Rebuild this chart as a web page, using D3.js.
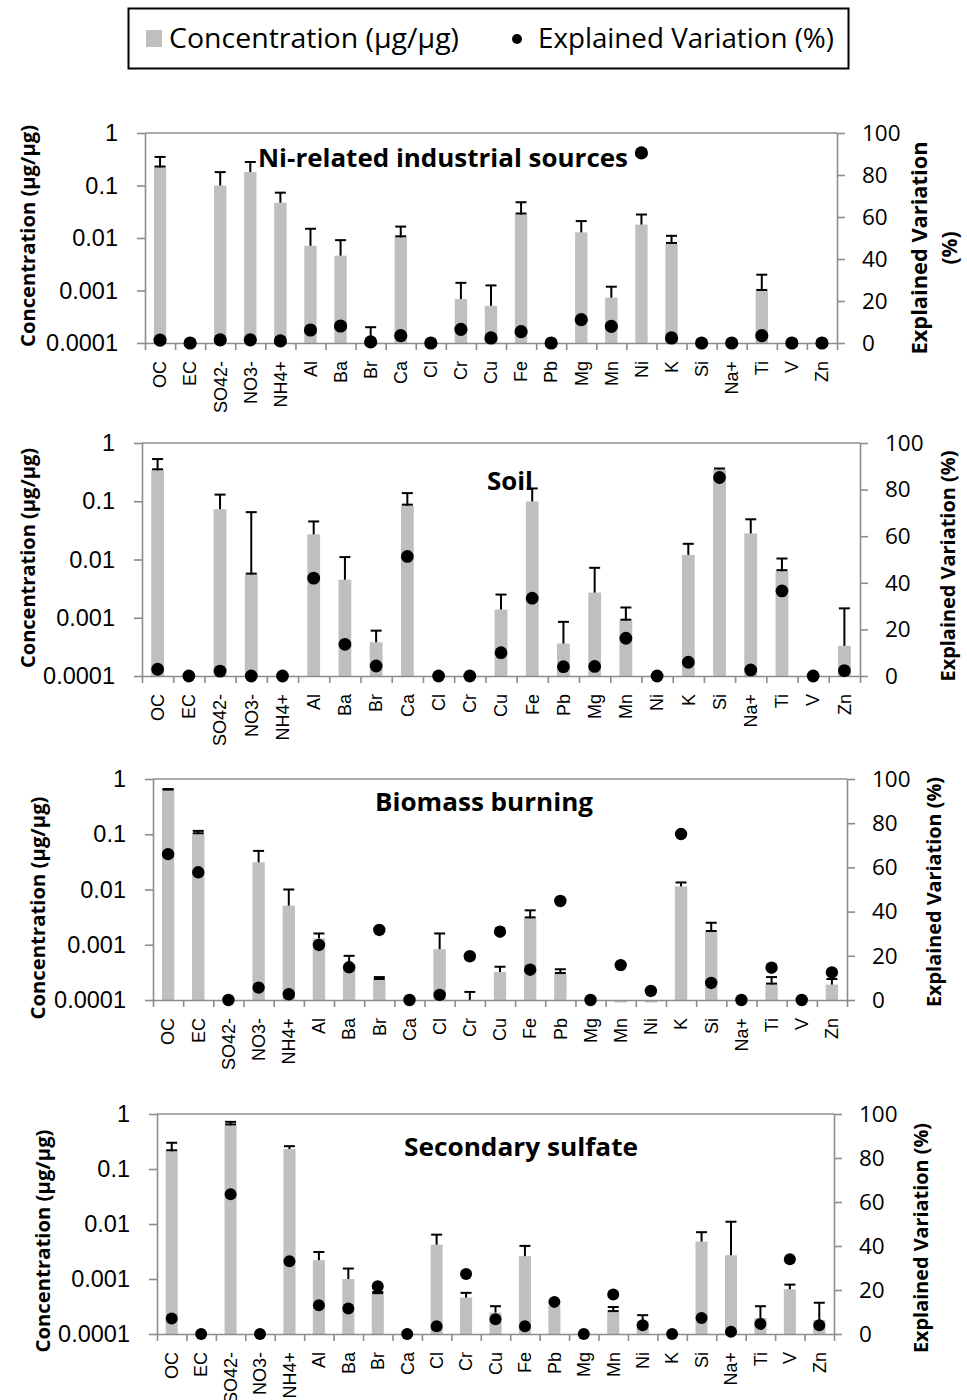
<!DOCTYPE html>
<html>
<head>
<meta charset="utf-8">
<script src="https://cdn.jsdelivr.net/npm/d3@7"></script>
<style>
  body { margin: 0; background: #fff; }
  svg { display: block; }
</style>
</head>
<body>
<svg id="chart" width="967" height="1400"></svg>
<script>
// Species shown along every x axis
const categories = ["OC", "EC", "SO42-", "NO3-", "NH4+", "Al", "Ba", "Br", "Ca", "Cl", "Cr", "Cu",
                    "Fe", "Pb", "Mg", "Mn", "Ni", "K", "Si", "Na+", "Ti", "V", "Zn"];

// Axis ticks
const concTicks = [0.0001, 0.001, 0.01, 0.1, 1];
const concTickLabels = ["0.0001", "0.001", "0.01", "0.1", "1"];
const explTicks = [0, 20, 40, 60, 80, 100];

// Legend entries
const legendConc = "Concentration (µg/µg)";
const legendExpl = "Explained Variation (%)";

// Factor profiles: concentration (µg/µg), upper error bound, lower error bound, explained variation (%)
const niConc      = [0.22, null, 0.1, 0.18, 0.047, 0.0071, 0.0046, null, 0.0103, null, 0.00069, 0.00051,
                     0.028, null, 0.0128, 0.00073, 0.018, 0.0077, null, null, 0.00098, null, null];
const niErrHigh   = [0.35, null, 0.18, 0.28, 0.073, 0.015, 0.0091, 0.0002, 0.0165, null, 0.0014, 0.00125,
                     0.048, null, 0.021, 0.00118, 0.028, 0.011, null, null, 0.002, null, null];
const niErrLow    = [0.22, null, null, null, null, null, null, null, 0.0103, null, null, null,
                     0.028, null, null, null, null, 0.0077, null, null, 0.00098, null, null];
const niExplained = [1.4, 0, 1.5, 1.5, 1.0, 6.2, 8.1, 0.5, 3.5, 0, 6.5, 2.4,
                     5.4, 0, 11.1, 7.9, 90.5, 2.4, 0, 0, 3.5, 0, 0];

const soilConc      = [0.34, null, 0.073, 0.0055, null, 0.027, 0.0045, 0.00038, 0.084, null, null, 0.00138,
                       0.099, 0.00036, 0.0027, 0.00089, null, 0.012, 0.35, 0.028, 0.0063, null, 0.00033];
const soilErrHigh   = [0.53, null, 0.13, 0.065, null, 0.045, 0.011, 0.0006, 0.138, null, null, 0.0025,
                       0.166, 0.00085, 0.0072, 0.0015, null, 0.0186, 0.365, 0.049, 0.0104, null, 0.00145];
const soilErrLow    = [0.34, null, null, 0.0055, null, null, null, null, 0.084, null, null, null,
                       null, null, null, 0.00089, null, null, null, null, 0.0063, null, null];
const soilExplained = [2.9, 0, 2.1, 0, 0, 42, 13.6, 4.3, 51.3, 0, 0, 10,
                       33.4, 4.0, 4.1, 16.2, 0, 5.9, 85.2, 2.6, 36.5, 0, 2.3];

const bioConc      = [0.63, 0.1, null, 0.031, 0.0051, 0.0013, 0.00044, 0.00023, null, 0.00083, null, 0.00032,
                      0.003, 0.000295, null, 0.00009, 0.00009, 0.0114, 0.0017, null, 0.00019, null, 0.00019];
const bioErrHigh   = [0.645, 0.115, null, 0.05, 0.01, 0.0016, 0.00063, 0.00026, null, 0.0016, 0.00014, 0.0004,
                      0.0042, 0.00036, null, null, null, 0.0134, 0.0025, null, 0.00026, null, 0.00024];
const bioErrLow    = [0.63, 0.1, null, null, null, null, null, 0.00023, null, null, null, null,
                      0.003, 0.000295, null, null, null, null, 0.0017, null, 0.00019, null, null];
const bioExplained = [66, 57.8, 0, 5.6, 2.6, 24.9, 14.8, 31.7, 0, 2.3, 19.8, 30.9,
                      13.7, 44.8, 0, 15.8, 4.1, 75.1, 7.7, 0, 14.6, 0, 12.5];

const sulfConc      = [0.21, null, 0.62, null, 0.23, 0.0022, 0.001, 0.00053, null, 0.0042, 0.00046, 0.000245,
                       0.0026, 0.00033, null, 0.00025, 0.00017, null, 0.0048, 0.0027, 0.000195, 0.00065, 0.00018];
const sulfErrHigh   = [0.30, null, 0.72, null, 0.26, 0.0031, 0.00155, 0.00058, null, 0.0064, 0.00056, 0.00032,
                       0.004, null, null, 0.00031, 0.00022, null, 0.0071, 0.011, 0.00032, 0.00079, 0.00037];
const sulfErrLow    = [0.21, null, 0.62, null, null, null, null, 0.00053, null, null, null, null,
                       null, null, null, 0.00025, null, null, null, null, null, null, null];
const sulfExplained = [7, 0, 63.5, 0, 33.1, 13.1, 11.6, 21.7, 0, 3.5, 27.3, 6.7,
                       3.5, 14.6, 0, 18, 4, 0, 7.3, 1.0, 4.6, 34, 4];

const panels = [
  { title: "Ni-related industrial sources", conc: niConc, hi: niErrHigh, lo: niErrLow, expl: niExplained },
  { title: "Soil", conc: soilConc, hi: soilErrHigh, lo: soilErrLow, expl: soilExplained },
  { title: "Biomass burning", conc: bioConc, hi: bioErrHigh, lo: bioErrLow, expl: bioExplained },
  { title: "Secondary sulfate", conc: sulfConc, hi: sulfErrHigh, lo: sulfErrLow, expl: sulfExplained }
];

// Page layout of each panel
const frames = [
  { left: 145, right: 837, top: 133, bottom: 343, r: 6.6,
    tx: 443, ty: 167, tLen: 370,
    lx: 35, ly: 236, lLen: 222,
    rLines: ["Explained Variation", "(%)"], rx: [927, 957], ry: 248, rLen: [213, null], rSize: 21 },
  { left: 142, right: 860, top: 443, bottom: 676, r: 6.4,
    tx: 510, ty: 490, tLen: 46,
    lx: 35, ly: 558, lLen: 220,
    rLines: ["Explained Variation (%)"], rx: [955], ry: 566, rLen: [231], rSize: 19 },
  { left: 153, right: 847, top: 779, bottom: 1000, r: 6.2,
    tx: 484, ty: 811, tLen: 218,
    lx: 45, ly: 908, lLen: 223,
    rLines: ["Explained Variation (%)"], rx: [941], ry: 892, rLen: [230], rSize: 19 },
  { left: 157, right: 834, top: 1114, bottom: 1334, r: 6.0,
    tx: 521, ty: 1156, tLen: 234,
    lx: 50, ly: 1241, lLen: 223,
    rLines: ["Explained Variation (%)"], rx: [928], ry: 1238, rLen: [230], rSize: 19 }
];

const AXIS_COLOR = "#8c8c8c";
const BAR_COLOR = "#bfbfbf";
const svg = d3.select("#chart");

// Legend
const legend = svg.append("g");
legend.append("rect").attr("x", 128.5).attr("y", 8.5).attr("width", 720).attr("height", 60)
  .attr("fill", "none").attr("stroke", "#000").attr("stroke-width", 2);
legend.append("rect").attr("x", 146).attr("y", 30).attr("width", 16).attr("height", 17).attr("fill", BAR_COLOR);
legend.append("text").attr("x", 169).attr("y", 48).text(legendConc)
  .attr("font-family", "'Open Sans', sans-serif").attr("font-size", 27)
  .attr("textLength", 290).attr("lengthAdjust", "spacingAndGlyphs");
legend.append("circle").attr("cx", 517).attr("cy", 39).attr("r", 5).attr("fill", "#000");
legend.append("text").attr("x", 538).attr("y", 48).text(legendExpl)
  .attr("font-family", "'Open Sans', sans-serif").attr("font-size", 27)
  .attr("textLength", 296).attr("lengthAdjust", "spacingAndGlyphs");

function styleAxis(g) {
  g.select(".domain").attr("stroke", AXIS_COLOR).attr("stroke-width", 1.6);
  g.selectAll(".tick line").attr("stroke", AXIS_COLOR).attr("stroke-width", 1.6);
  g.selectAll(".tick text").attr("fill", "#000");
}

panels.forEach((p, pi) => {
  const f = frames[pi];
  const g = svg.append("g");

  const x = d3.scaleBand().domain(categories).range([f.left, f.right])
    .paddingInner(0.59).paddingOuter(0.295);
  const yC = d3.scaleLog().domain([1e-4, 1]).range([f.bottom, f.top]);
  const yE = d3.scaleLinear().domain([0, 100]).range([f.bottom, f.top]);
  const idx = d3.scaleLinear().domain([0, categories.length]).range([f.left, f.right]);

  const rows = categories.map((c, i) => ({ c, v: p.conc[i], hi: p.hi[i], lo: p.lo[i], e: p.expl[i] }));
  const cx = d => x(d.c) + x.bandwidth() / 2;
  const base = yC(1e-4);

  // top frame line
  g.append("line").attr("x1", f.left).attr("x2", f.right).attr("y1", f.top).attr("y2", f.top)
    .attr("stroke", AXIS_COLOR).attr("stroke-width", 1.6);

  // concentration bars (grow from the 0.0001 axis line)
  g.selectAll("rect.bar").data(rows.filter(d => d.v != null)).join("rect")
    .attr("class", "bar")
    .attr("x", d => x(d.c))
    .attr("width", x.bandwidth())
    .attr("y", d => Math.min(yC(d.v), base))
    .attr("height", d => Math.abs(base - yC(d.v)))
    .attr("fill", BAR_COLOR);

  // error bars
  const eb = g.selectAll("g.err").data(rows.filter(d => d.hi != null)).join("g").attr("class", "err")
    .attr("stroke", "#000").attr("stroke-width", 2);
  eb.append("line")
    .attr("x1", cx).attr("x2", cx)
    .attr("y1", d => d.v != null && d.v > 1e-4 ? yC(d.v) : base)
    .attr("y2", d => yC(d.hi));
  eb.append("line")
    .attr("x1", d => cx(d) - 5.5).attr("x2", d => cx(d) + 5.5)
    .attr("y1", d => yC(d.hi)).attr("y2", d => yC(d.hi));
  eb.filter(d => d.lo != null).append("line")
    .attr("x1", d => cx(d) - 5.5).attr("x2", d => cx(d) + 5.5)
    .attr("y1", d => yC(d.lo) - 1).attr("y2", d => yC(d.lo) - 1);

  // axes
  const gl = g.append("g").attr("transform", `translate(${f.left},0)`)
    .call(d3.axisLeft(yC).tickValues(concTicks).tickFormat((d, i) => concTickLabels[i])
      .tickSize(8).tickSizeOuter(0).tickPadding(19));
  gl.attr("font-family", "'Liberation Sans', Arial, sans-serif").attr("font-size", 23.5);
  styleAxis(gl);

  const gr = g.append("g").attr("transform", `translate(${f.right},0)`)
    .call(d3.axisRight(yE).tickValues(explTicks).tickSize(8).tickSizeOuter(0).tickPadding(17));
  gr.attr("font-family", "'Open Sans', sans-serif").attr("font-size", 22.5);
  styleAxis(gr);

  const gb = g.append("g").attr("transform", `translate(0,${f.bottom})`)
    .call(d3.axisBottom(idx).tickValues(d3.range(categories.length + 1)).tickFormat("")
      .tickSize(7).tickSizeOuter(0));
  styleAxis(gb);

  const gx = g.append("g").attr("transform", `translate(0,${f.bottom})`)
    .call(d3.axisBottom(x).tickSize(0));
  gx.select(".domain").remove();
  gx.attr("font-family", "'Liberation Sans', Arial, sans-serif").attr("font-size", 18);
  gx.selectAll(".tick text")
    .attr("fill", "#000")
    .attr("transform", "rotate(-90)")
    .attr("x", -18).attr("y", 0).attr("dy", "0.35em")
    .attr("text-anchor", "end");

  // explained-variation dots
  g.selectAll("circle.dot").data(rows).join("circle")
    .attr("class", "dot")
    .attr("cx", cx).attr("cy", d => yE(d.e)).attr("r", f.r).attr("fill", "#000");

  // panel title
  g.append("text").attr("x", f.tx).attr("y", f.ty).attr("text-anchor", "middle")
    .attr("font-family", "'Open Sans', sans-serif").attr("font-weight", 700).attr("font-size", 25)
    .attr("textLength", f.tLen).attr("lengthAdjust", "spacingAndGlyphs")
    .text(p.title);

  // left axis title
  g.append("text").attr("transform", `translate(${f.lx},${f.ly}) rotate(-90)`)
    .attr("text-anchor", "middle")
    .attr("font-family", "'Open Sans', sans-serif").attr("font-weight", 700).attr("font-size", 19)
    .attr("textLength", f.lLen).attr("lengthAdjust", "spacingAndGlyphs")
    .text("Concentration (µg/µg)");

  // right axis title
  f.rLines.forEach((line, li) => {
    const t = g.append("text").attr("transform", `translate(${f.rx[li]},${f.ry}) rotate(-90)`)
      .attr("text-anchor", "middle")
      .attr("font-family", "'Open Sans', sans-serif").attr("font-weight", 700).attr("font-size", f.rSize)
      .text(line);
    if (f.rLen[li]) t.attr("textLength", f.rLen[li]).attr("lengthAdjust", "spacingAndGlyphs");
  });
});
</script>
</body>
</html>
